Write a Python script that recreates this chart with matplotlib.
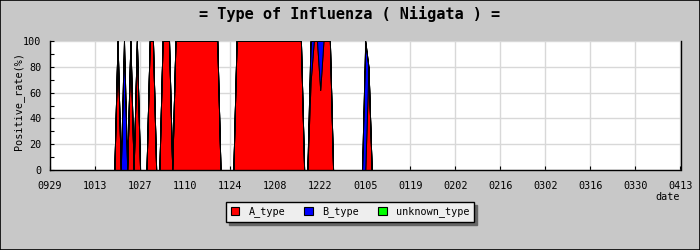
import numpy as np
import matplotlib
matplotlib.use("Agg")
import matplotlib.pyplot as plt
from matplotlib.patches import Patch, Rectangle

# ---- data (daily, starting 09/29) ----
tick_labels = ["0929", "1013", "1027", "1110", "1124", "1208", "1222", "0105",
               "0119", "0202", "0216", "0302", "0316", "0330", "0413"]
series_names = ["A_type", "B_type", "unknown_type"]

a_type = [0] * 20 + [
    0, 100, 0, 0, 0, 100, 0, 100, 0, 0,          # d20-d29
    0, 100, 100, 0, 0, 100, 100, 100, 0, 100,    # d30-d39
    100, 100, 100, 100, 100, 100, 100, 100, 100, 100,  # d40-d49
    100, 100, 100, 0, 0, 0, 0, 0, 100, 100,      # d50-d59
    100, 100, 100, 100, 100, 100, 100, 100, 100, 100,  # d60-d69
    100, 100, 100, 100, 100, 100, 100, 100, 100, 0,    # d70-d79
    0, 68, 100, 100, 62, 100, 100, 100, 0, 0,    # d80-d89
    0, 0, 0, 0, 0, 0, 0, 0, 0, 80,               # d90-d99
    0,                                           # d100
]
b_type = [0] * 20 + [
    0, 0, 0, 100, 0, 0, 0, 0, 0, 0,
    0, 0, 0, 0, 0, 0, 0, 0, 0, 0,
    0, 0, 0, 0, 0, 0, 0, 0, 0, 0,
    0, 0, 0, 0, 0, 0, 0, 0, 0, 0,
    0, 0, 0, 0, 0, 0, 0, 0, 0, 0,
    0, 0, 0, 0, 0, 0, 0, 0, 0, 0,
    0, 32, 0, 0, 38, 0, 0, 0, 0, 0,
    0, 0, 0, 0, 0, 0, 0, 0, 100, 0,
    0,
]
unknown_type = [0] * len(a_type)

colors = ["#ff0000", "#0000ff", "#00ff00"]
bg = "#c8c8c8"
mono = "DejaVu Sans Mono"

W, H = 700, 250
fig = plt.figure(figsize=(7, 2.5), dpi=100, facecolor=bg)
fig.patches.append(Rectangle((0, 0), 1, 1, transform=fig.transFigure,
                             fill=False, edgecolor="black", linewidth=1.2))

L, R, T, B = 50, 680.5, 41, 170
ax = fig.add_axes([L / W, 1 - B / H, (R - L) / W, (B - T) / H])
ax.set_facecolor("white")

days = np.arange(len(a_type))
polys = ax.stackplot(days, a_type, b_type, unknown_type, colors=colors,
                     edgecolor="black", linewidth=0.7, zorder=3)

ndays = 14 * (len(tick_labels) - 1)
ax.set_xlim(0, ndays)
ax.set_ylim(0, 100)
ax.set_xticks(np.arange(0, ndays + 1, 14))
ax.set_xticklabels(tick_labels, fontfamily=mono, fontsize=7.3)
ax.set_yticks(np.arange(0, 101, 20))
ax.set_yticks(np.arange(10, 100, 20), minor=True)
ax.set_yticklabels([str(v) for v in range(0, 101, 20)], fontfamily=mono, fontsize=7.3)
ax.tick_params(axis="x", direction="in", length=3.2, width=0.8, pad=8, colors="black")
ax.tick_params(axis="y", which="both", direction="in", length=2.6, width=0.8, pad=6)
ax.tick_params(axis="x", which="minor", length=0)

ax.grid(True, which="major", color="#d8d8d8", linewidth=1.0, zorder=0)
ax.set_axisbelow(True)
for s in ["left", "bottom", "right"]:
    ax.spines[s].set_color("black")
    ax.spines[s].set_linewidth(1.0)
    ax.spines[s].set_zorder(5)
ax.spines["top"].set_visible(False)

fig.text(0.5, 1 - 14.5 / H, "= Type of Influenza ( Niigata ) =", ha="center",
         va="center", fontfamily=mono, fontweight="bold", fontsize=11)
fig.text(19 / W, 1 - 101 / H, "Positive_rate(%)", rotation=90, ha="center",
         va="center", fontfamily=mono, fontsize=7.3)
fig.text(668 / W, 1 - 197 / H, "date", ha="center", va="center",
         fontfamily=mono, fontsize=7.3)

handles = [Patch(facecolor=c, edgecolor="black", linewidth=0.8) for c in colors]
leg = fig.legend(handles, series_names, loc="center", bbox_to_anchor=(0.5, 1 - 212 / H),
                 ncol=3, frameon=True, fancybox=False, shadow={"color": "#666666", "alpha": 1},
                 prop={"family": mono, "size": 7.3}, handlelength=0.85, handleheight=0.85,
                 handletextpad=0.9, columnspacing=1.9, borderpad=0.45)
leg.get_frame().set_facecolor("#eeeeee")
leg.get_frame().set_edgecolor("black")
leg.get_frame().set_linewidth(1.0)

fig.savefig("out.png", dpi=100, facecolor=bg)
